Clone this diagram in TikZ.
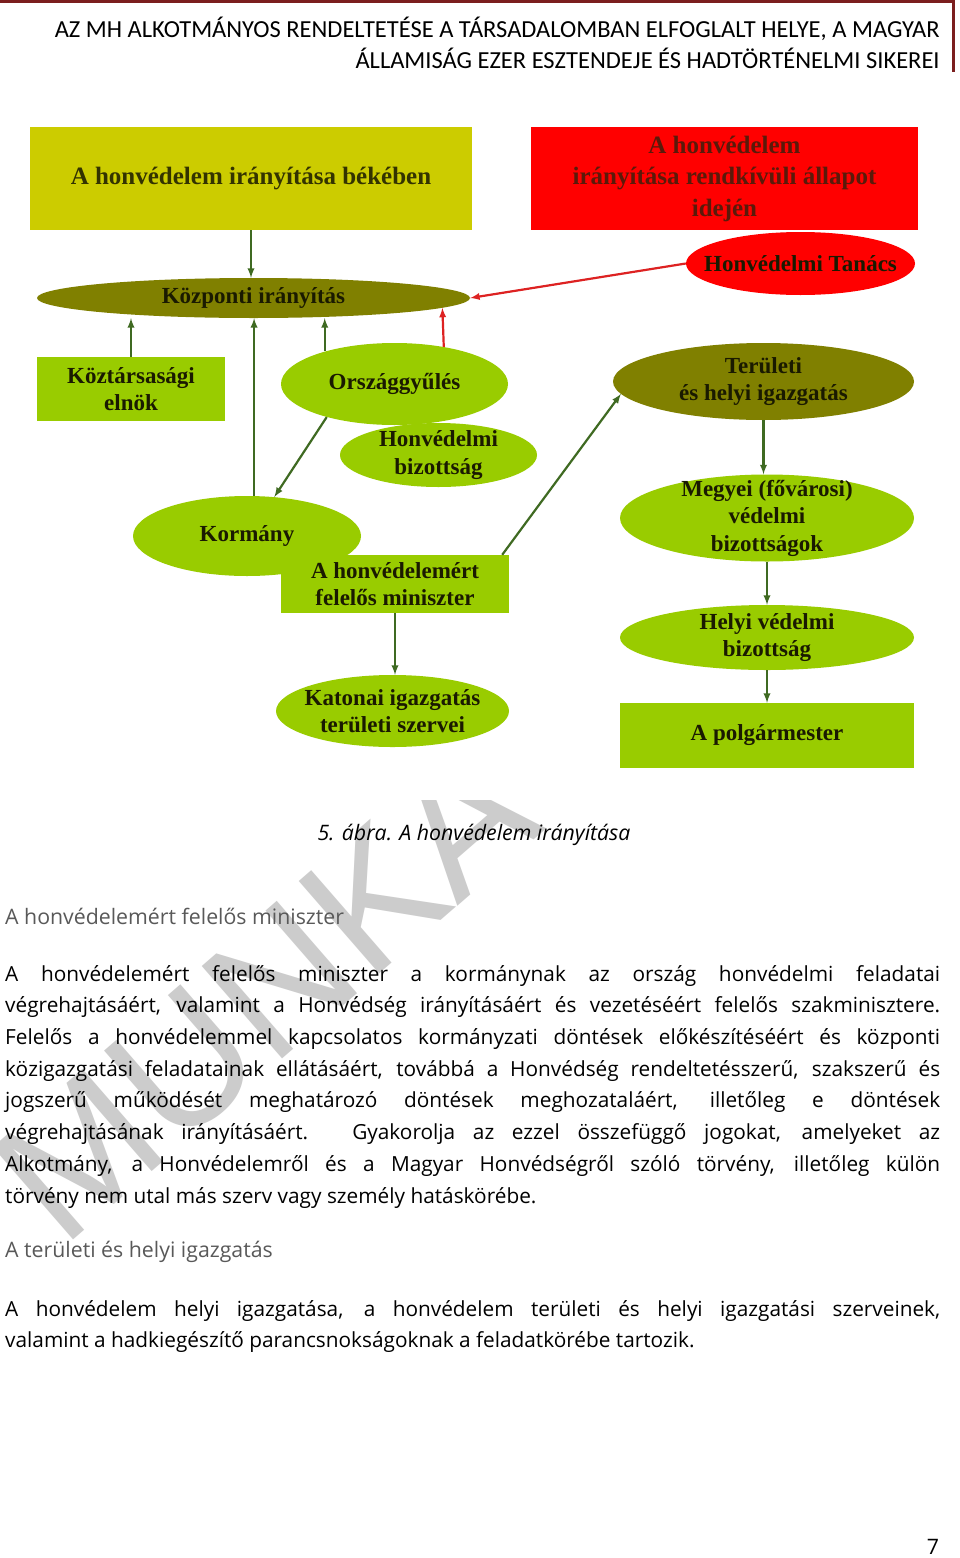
\documentclass[tikz,border=0pt]{standalone}
\usepackage{fontspec}
\setmainfont{Open Sans}
\newfontfamily\headfont{Carlito}
\newfontfamily\diafont{Liberation Serif}
\newfontfamily\wmfont{Liberation Sans}
\usetikzlibrary{shapes.geometric, arrows}

\definecolor{peaceyellow}{HTML}{CCCC00}
\definecolor{alarmred}{HTML}{FF0000}
\definecolor{darkolive}{HTML}{808000}
\definecolor{limegreen}{HTML}{99CC00}
\definecolor{arrowgreen}{HTML}{3F6A22}
\definecolor{arrowred}{HTML}{DD2222}
\definecolor{nodetext}{HTML}{1A1A00}
\definecolor{peacetext}{HTML}{333300}
\definecolor{alarmtext}{HTML}{5A1A0A}
\definecolor{headred}{HTML}{7B1E1E}
\definecolor{headgray}{HTML}{595959}
\definecolor{wmgray}{HTML}{CCCCCC}

\begin{document}
\begin{tikzpicture}[x=1pt, y=-1pt,
  box/.style = {rectangle, inner sep=0pt, align=center, text=nodetext,
                font=\diafont\bfseries\fontsize{23}{27.5}\selectfont},
  bigbox/.style = {box, font=\diafont\bfseries\fontsize{25}{31.5}\selectfont},
  oval/.style = {box, ellipse, inner xsep=-60pt, inner ysep=-40pt},
  garrow/.style = {-latex, draw=arrowgreen, line width=2.2pt},
  rarrow/.style = {-latex, draw=arrowred, line width=2.2pt},
  bodytext/.style = {anchor=north west, inner sep=0pt, text width=935pt, align=justify,
                font=\fontsize{20.8}{31.7}\selectfont},
  plaintext/.style = {inner sep=0pt, font=\fontsize{21.3}{24}\selectfont}]
\useasboundingbox[fill=white] (0,0) rectangle (960,1558);

\begin{scope}
\clip (0,800) rectangle (960,1558);
\node[rotate=41, anchor=base west, inner sep=0pt, text=wmgray, font=\wmfont\fontsize{178}{178}\selectfont] (wm) at (62,1250) {MUNKA};
\end{scope}

\draw[headred, line width=3pt] (0,1.5) -- (953.5,1.5) -- (953.5,72);
\node[anchor=east, inner sep=0pt, font=\headfont\fontsize{24.5}{31}\selectfont, align=right] (head) at (940,43) {AZ MH ALKOTMÁNYOS RENDELTETÉSE A TÁRSADALOMBAN ELFOGLALT HELYE, A MAGYAR\\ ÁLLAMISÁG EZER ESZTENDEJE ÉS HADTÖRTÉNELMI SIKEREI};

\node[bigbox, fill=peaceyellow, text=peacetext, minimum width=442pt, minimum height=103pt] (peace) at (251,178.5) {A honvédelem irányítása békében};
\node[bigbox, fill=alarmred, text=alarmtext, minimum width=387pt, minimum height=103pt] (alarm) at (724.5,178.5) {A honvédelem\\ irányítása rendkívüli állapot\\ idején};
\node[oval, fill=alarmred, minimum width=229pt, minimum height=63pt] (tanacs) at (800.5,263.5) {Honvédelmi Tanács};
\node[oval, fill=darkolive, minimum width=433pt, minimum height=40pt] (kozp) at (253.5,298) {Központi irányítás};

\node[box, fill=limegreen, minimum width=188pt, minimum height=64pt] (elnok) at (131,389) {Köztársasági\\ elnök};
\node[oval, fill=limegreen, minimum width=227pt, minimum height=82pt] (orszgy) at (394.5,384) {Országgyűlés};
\node[oval, fill=limegreen, minimum width=197pt, minimum height=64pt] (hvbiz) at (438.5,455) {Honvédelmi\\ bizottság};
\node[oval, fill=limegreen, minimum width=228pt, minimum height=80pt] (korm) at (247,536) {Kormány};
\node[box, fill=limegreen, minimum width=228pt, minimum height=58pt] (minis) at (395,584) {A honvédelemért\\ felelős miniszter};
\node[oval, fill=limegreen, minimum width=233pt, minimum height=72pt] (katon) at (392.5,711) {Katonai igazgatás\\ területi szervei};

\node[oval, fill=darkolive, minimum width=301pt, minimum height=77pt] (terul) at (763.5,381.5) {Területi\\ és helyi igazgatás};
\node[oval, fill=limegreen, minimum width=294pt, minimum height=87pt] (megyei) at (767,518) {Megyei (fővárosi)\\ védelmi\\ bizottságok};
\node[oval, fill=limegreen, minimum width=294pt, minimum height=65pt] (helyi) at (767,637.5) {Helyi védelmi\\ bizottság};
\node[box, fill=limegreen, minimum width=294pt, minimum height=65pt] (polg) at (767,735.5) {A polgármester};

\draw[garrow] (peace.south) -- (peace.south |- kozp.north);
\draw[garrow] (elnok.north) -- (elnok.north |- kozp.south);
\draw[garrow] (korm.80) -- (korm.80 |- kozp.south);
\draw[garrow] (orszgy.155) -- (orszgy.155 |- kozp.south);
\draw[rarrow] (orszgy.37) -- (kozp.-3);
\draw[rarrow] (tanacs.west) -- (kozp.east);
\draw[garrow] (orszgy.206) -- (korm.55);
\draw[garrow] ([xshift=-7pt]minis.north east) -- (terul.185);
\draw[garrow] (minis.south) -- (minis.south |- katon.north);
\draw[garrow] (terul.south) -- (terul.south |- megyei.north);
\draw[garrow] (megyei.south) -- (helyi.north);
\draw[garrow] (helyi.south) -- (polg.north);

\node[plaintext, font=\itshape\fontsize{21.3}{24}\selectfont] (capt) at (474,835) {5. ábra. A honvédelem irányítása};
\node[plaintext, anchor=west, text=headgray] (head1) at (5,916) {A honvédelemért felelős miniszter};
\node[bodytext] (par1) at (5,965) {\hyphenpenalty=10000 \spaceskip=.26em plus .6em minus .16em A honvédelemért felelős miniszter a kormánynak az ország honvédelmi feladatai\linebreak végrehajtásáért, valamint a Honvédség irányításáért és vezetéséért felelős szakminisztere.\linebreak Felelős a honvédelemmel kapcsolatos kormányzati döntések előkészítéséért és központi\linebreak közigazgatási feladatainak ellátásáért, továbbá a Honvédség rendeltetésszerű, szakszerű és\linebreak jogszerű működését meghatározó döntések meghozataláért, illetőleg e döntések\linebreak végrehajtásának irányításáért. Gyakorolja az ezzel összefüggő jogokat, amelyeket az\linebreak Alkotmány, a Honvédelemről és a Magyar Honvédségről szóló törvény, illetőleg külön\linebreak törvény nem utal más szerv vagy személy hatáskörébe.};
\node[plaintext, anchor=west, text=headgray] (head2) at (5,1252) {A területi és helyi igazgatás};
\node[bodytext] (par2) at (5,1300) {\hyphenpenalty=10000 \spaceskip=.26em plus .6em minus .16em A honvédelem helyi igazgatása, a honvédelem területi és helyi igazgatási szerveinek,\linebreak valamint a hadkiegészítő parancsnokságoknak a feladatkörébe tartozik.};
\node[plaintext] (pnum) at (933,1547) {7};
\end{tikzpicture}
\end{document}
